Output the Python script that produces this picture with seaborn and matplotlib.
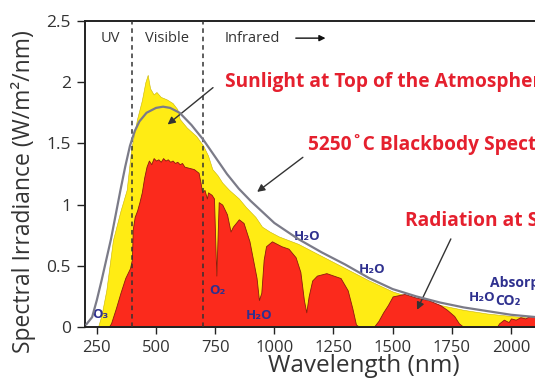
import numpy as np
import pandas as pd
import matplotlib
matplotlib.use("Agg")
import matplotlib.pyplot as plt
import seaborn as sns

# blackbody curve (5250 C)
bb_wl = [205, 230, 250, 270, 290, 310, 330, 350, 370, 390, 410, 430, 460, 500, 530,
         560, 600, 650, 700, 750, 800, 850, 900, 950, 1000, 1100, 1200, 1300, 1400,
         1500, 1600, 1700, 1800, 1900, 2000, 2110]
bb_val = [0.02, 0.08, 0.22, 0.38, 0.55, 0.72, 0.92, 1.12, 1.31, 1.48, 1.60, 1.68, 1.75,
          1.79, 1.80, 1.79, 1.75, 1.65, 1.53, 1.39, 1.25, 1.13, 1.03, 0.94, 0.85, 0.72,
          0.61, 0.51, 0.40, 0.31, 0.25, 0.20, 0.16, 0.13, 0.10, 0.08]

# sunlight at top of the atmosphere (yellow)
toa_wl = [255, 270, 290, 318, 350, 376, 395, 405, 420, 440, 455, 465, 475, 490, 502,
          520, 545, 570, 590, 600, 630, 670, 700, 720, 738, 760, 780, 809, 850, 880,
          920, 948, 980, 1019, 1100, 1200, 1300, 1400, 1500, 1600, 1700, 1800, 1900,
          2000, 2110]
toa_val = [0.0, 0.10, 0.30, 0.71, 0.95, 1.12, 1.45, 1.55, 1.70, 1.85, 2.00, 2.06, 1.95,
           1.90, 1.92, 1.88, 1.86, 1.83, 1.78, 1.70, 1.63, 1.56, 1.48, 1.40, 1.29, 1.24,
           1.18, 1.12, 1.05, 0.98, 0.90, 0.82, 0.78, 0.74, 0.68, 0.58, 0.48, 0.38, 0.29,
           0.23, 0.18, 0.14, 0.11, 0.09, 0.07]

# radiation at sea level (red)
sea_wl = [300, 310, 330, 350, 370, 390, 398, 402, 410, 420, 430, 440, 450, 460, 470,
          480, 490, 500, 510, 520, 530, 540, 550, 560, 570, 580, 590, 600, 610, 620,
          640, 660, 680, 688, 695, 705, 715, 720, 735, 745, 752, 755, 758, 765, 780,
          800, 815, 825, 850, 870, 895, 910, 925, 935, 945, 955, 965, 990, 1030, 1060,
          1090, 1110, 1125, 1135, 1145, 1160, 1180, 1220, 1250, 1280, 1310, 1330, 1345,
          1360, 1420, 1440, 1460, 1480, 1500, 1550, 1600, 1650, 1700, 1730, 1760, 1780,
          1800, 1940, 1950, 1970, 1990, 2000, 2020, 2040, 2060, 2080, 2110]
sea_val = [0.0, 0.03, 0.15, 0.28, 0.40, 0.48, 0.55, 0.80, 0.90, 0.95, 1.02, 1.10, 1.22,
           1.31, 1.36, 1.33, 1.38, 1.36, 1.37, 1.35, 1.38, 1.36, 1.37, 1.35, 1.36, 1.34,
           1.35, 1.33, 1.34, 1.31, 1.30, 1.29, 1.26, 1.18, 1.10, 1.12, 1.05, 1.10, 1.08,
           1.05, 0.60, 0.42, 0.60, 1.02, 1.00, 0.92, 0.78, 0.82, 0.88, 0.85, 0.70, 0.55,
           0.40, 0.22, 0.28, 0.55, 0.66, 0.70, 0.66, 0.64, 0.57, 0.45, 0.22, 0.12, 0.25,
           0.38, 0.42, 0.44, 0.42, 0.40, 0.30, 0.15, 0.02, 0.0, 0.0, 0.05, 0.12, 0.18,
           0.25, 0.27, 0.24, 0.22, 0.18, 0.14, 0.09, 0.03, 0.0, 0.0, 0.03, 0.06, 0.04,
           0.07, 0.06, 0.08, 0.07, 0.09, 0.08]

x_ticks = [250, 500, 750, 1000, 1250, 1500, 1750, 2000]
y_ticks = [0, 0.5, 1, 1.5, 2, 2.5]
y_tick_labels = ["0", "0.5", "1", "1.5", "2", "2.5"]

# gas labels: (text, wavelength, irradiance)
gas_labels = [("O₃", 265, 0.10), ("O₂", 760, 0.30), ("H₂O", 935, 0.09),
              ("H₂O", 1138, 0.74), ("H₂O", 1413, 0.47), ("H₂O", 1878, 0.24)]

sns.set_style("ticks")
plt.rcParams["font.family"] = ["Open Sans", "DejaVu Sans"]

bb = pd.DataFrame({"wl": bb_wl, "val": bb_val})

fig = plt.figure(figsize=(5.35, 3.81), dpi=100)
ax = fig.add_axes([85 / 535, 54 / 381, 452 / 535, 306 / 381])

ax.fill_between(toa_wl, toa_val, 0, color="#ffec14", edgecolor="#c9b400", linewidth=0.4, zorder=1)
ax.fill_between(sea_wl, sea_val, 0, color="#fb2a1c", edgecolor="#8b1a0e", linewidth=0.6, zorder=2)

for wl in [400, 700]:
    ax.axvline(wl, color="#333333", linestyle=(0, (3, 2.5)), linewidth=1.1, zorder=3)

sns.lineplot(data=bb, x="wl", y="val", ax=ax, color="#7b7b88", linewidth=1.6, zorder=4)

ax.set_xlim(200, 2110)
ax.set_ylim(0, 2.5)
ax.set_xticks(x_ticks)
ax.set_xticklabels([str(t) for t in x_ticks])
ax.set_yticks(y_ticks)
ax.set_yticklabels(y_tick_labels)
ax.tick_params(axis="both", labelsize=12, colors="#222222", labelcolor="#333333",
               length=5, width=1, pad=4)
ax.tick_params(axis="y", labelsize=12.5, length=6, pad=4)
for s in ax.spines.values():
    s.set_color("#222222")
    s.set_linewidth(1.4)

ax.set_xlabel("")
ax.set_ylabel("")
fig.text(364 / 535, 1 - 366 / 381, "Wavelength (nm)", ha="center", va="center",
         fontsize=17.5, color="#333333")
fig.text(24 / 535, 1 - 192 / 381, "Spectral Irradiance (W/m²/nm)", ha="center",
         va="center", rotation=90, fontsize=16.5, color="#333333")

# region labels
band_kw = dict(fontsize=10.5, color="#333333", va="center")
ax.text(306, 2.36, "UV", ha="center", **band_kw)
ax.text(547, 2.36, "Visible", ha="center", **band_kw)
ax.text(790, 2.36, "Infrared", ha="left", **band_kw)
ax.annotate("", xy=(1228, 2.36), xytext=(1079, 2.36),
            arrowprops=dict(arrowstyle="-|>", color="#111111", lw=1, mutation_scale=9))

red_kw = dict(fontsize=13.8, fontweight="bold", color="#e5202e", va="center",
              ha="left", annotation_clip=False)
arrow_kw = dict(arrowstyle="-|>", color="#333333", lw=1, mutation_scale=11)
ax.annotate("", xy=(540, 1.64), xytext=(750, 1.97), arrowprops=arrow_kw)
ax.annotate("Sunlight at Top of the Atmosphere", xy=(792, 2.0), **red_kw)
ax.annotate("", xy=(918, 1.09), xytext=(1130, 1.40), arrowprops=arrow_kw)
ax.annotate("5250˚C Blackbody Spectrum", xy=(1143, 1.49), **red_kw)
ax.annotate("", xy=(1598, 0.12), xytext=(1751, 0.74), arrowprops=arrow_kw)
ax.annotate("Radiation at Sea Level", xy=(1552, 0.87), **red_kw)

gas_kw = dict(fontsize=9.5, fontweight="bold", color="#2f318f", ha="center", va="center")
for label, wl, val in gas_labels:
    ax.text(wl, val, label, **gas_kw)
ax.text(1912, 0.36, "Absorption Bands", ha="left", va="center", fontsize=10,
        fontweight="bold", color="#2f318f", clip_on=False)
ax.text(1935, 0.21, "CO₂", ha="left", va="center", fontsize=10,
        fontweight="bold", color="#2f318f", clip_on=False)

fig.savefig("out.png", dpi=100)
